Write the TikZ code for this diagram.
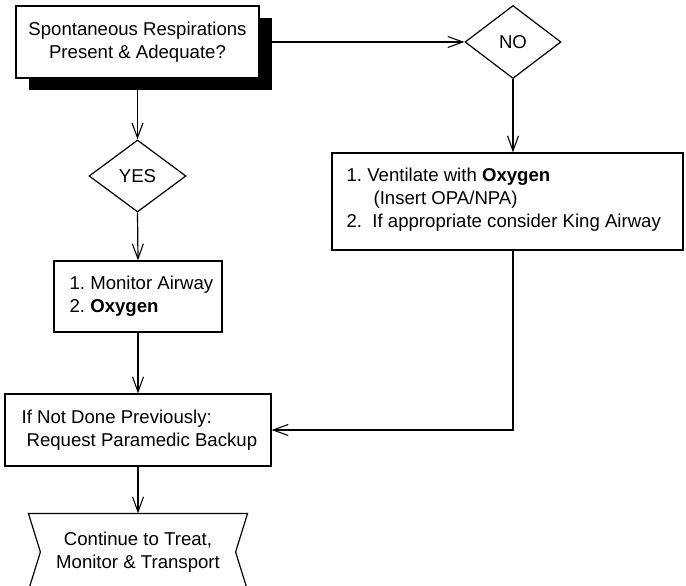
\documentclass[tikz,border=0pt]{standalone}
\usepackage{fontspec}
\setmainfont{Liberation Sans}
\frenchspacing
\usetikzlibrary{arrows.meta,shapes.geometric,shadows}
\begin{document}
\begin{tikzpicture}[x=1pt,y=-1pt,
  every node/.style={font=\fontsize{18.6}{23}\selectfont\frenchspacing, inner sep=0pt},
  box/.style={draw, line width=1.2pt, rectangle},
  dec/.style={draw, line width=1.2pt, diamond},
  txt/.style={align=left, anchor=west},
  conn/.style={line width=1.2pt, -{Straight Barb[length=15pt,width=11pt,line width=1.1pt]}},
  line width=1.2pt]
\useasboundingbox (0,0) rectangle (686,586);
% top question box with shadow
\node[box, fill=white, minimum width=243pt, minimum height=72pt, align=center,
      drop shadow={shadow xshift=13pt, shadow yshift=-12pt, opacity=1, fill=black}]
      (top) at (137.5,42) {Spontaneous Respirations\\Present \& Adequate?};
% decisions
\node[dec, minimum width=96pt, minimum height=73pt] (no) at (513,42) {NO};
\node[dec, minimum width=97pt, minimum height=72pt] (yes) at (137.5,176) {YES};
% right action box
\node[box, minimum width=351pt, minimum height=97pt] (right) at (507.5,201.5) {};
\node[txt] (righttxt) at (346,200) {1. Ventilate with \textbf{Oxygen}\\\hspace*{1.45em}(Insert OPA/NPA)\\2.\ \ If appropriate consider King Airway};
% monitor box
\node[box, minimum width=168pt, minimum height=71pt] (mon) at (138,296.5) {};
\node[txt] (montxt) at (69,296) {1. Monitor Airway\\2. \textbf{Oxygen}};
% if not done box
\node[box, minimum width=266pt, minimum height=72pt] (ifnot) at (138,430) {};
\node[txt] (ifnottxt) at (21,430) {If Not Done Previously:\\\hspace*{5pt}Request Paramedic Backup};
% final shape
\node[align=center, minimum width=218pt, minimum height=76pt] (bot) at (138,552) {Continue to Treat,\\Monitor \& Transport};
\draw[line join=miter] (bot.north west) -- (bot.north east) -- ([xshift=-12pt]bot.east) -- (bot.south east)
  -- (bot.south west) -- ([xshift=12pt]bot.west) -- cycle;
% connectors
\draw[conn] (top.east) -- (no.west);
\draw[conn] (no.south) -- (no.south |- right.north);
\draw[conn] (top.south) -- (yes.north);
\draw[conn] (yes.south) -- (mon.north);
\draw[conn] (mon.south) -- (ifnot.north);
\draw[conn] (ifnot.south) -- (bot.north);
\draw[conn] (no.south |- right.south) |- (ifnot.east);
\end{tikzpicture}
\end{document}
